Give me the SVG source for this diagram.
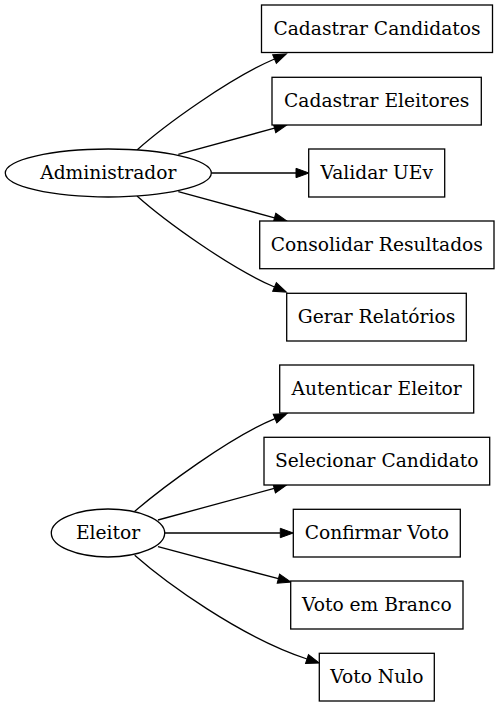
<svg xmlns="http://www.w3.org/2000/svg" width="500" height="707" viewBox="0 0 500 707">
<style>
.n rect, .n ellipse { fill: #fff; stroke: #000; stroke-width: 1.3; }
.n text { font-family: "DejaVu Serif", "Liberation Serif", serif; font-size: 18.67px; text-anchor: middle; fill: #000; }
.e path { fill: none; stroke: #000; stroke-width: 1.3; marker-end: url(#arr); }
</style>
<defs>
<marker id="arr" markerUnits="userSpaceOnUse" viewBox="0 0 13 9.4" refX="0" refY="4.7" markerWidth="13" markerHeight="9.4" orient="auto" overflow="visible">
<path d="M0,0 L13,4.7 L0,9.4 z" fill="#000" stroke="#000" stroke-width="1"/>
</marker>
</defs>
<rect width="500" height="707" fill="#fff"/>
<g id="edges" class="e">
<path d="M137,150 C165,125 230,78 274.5,59"/>
<path d="M178.3,154.3 L274.5,128.2"/>
<path d="M211.3,173 L296,173"/>
<path d="M178.3,191.7 L274.5,217.8"/>
<path d="M137,196 C165,221 230,268 274.5,287"/>
<path d="M134.7,511.3 C162,488 230,437 275,418.6"/>
<path d="M158,520 L274.2,488.4"/>
<path d="M164.7,533 L280.3,533"/>
<path d="M158,546.7 L278.4,578.7"/>
<path d="M134.7,555.3 C165,582 240,637 307,659"/>
</g>
<g id="administrador" class="n"><ellipse cx="108.3" cy="173" rx="103" ry="24"/><text x="108.3" y="178.5">Administrador</text></g>
<g id="cadastrar-candidatos" class="n"><rect x="261.5" y="5" width="231" height="47.5"/><text x="377" y="34.5">Cadastrar Candidatos</text></g>
<g id="cadastrar-eleitores" class="n"><rect x="272" y="77.3" width="209.3" height="47.7"/><text x="376.7" y="106.5">Cadastrar Eleitores</text></g>
<g id="validar-uev" class="n"><rect x="308.7" y="149" width="136" height="48"/><text x="376.7" y="178.5">Validar UEv</text></g>
<g id="consolidar-resultados" class="n"><rect x="259.7" y="221" width="234.3" height="47.7"/><text x="376.8" y="250.5">Consolidar Resultados</text></g>
<g id="gerar-relatorios" class="n"><rect x="286.7" y="293.3" width="179.6" height="47.7"/><text x="376.5" y="322.5">Gerar Relatórios</text></g>
<g id="eleitor" class="n"><ellipse cx="108" cy="533" rx="56.7" ry="24"/><text x="108" y="538.5">Eleitor</text></g>
<g id="autenticar-eleitor" class="n"><rect x="279.7" y="365" width="194" height="48"/><text x="376.7" y="394.5">Autenticar Eleitor</text></g>
<g id="selecionar-candidato" class="n"><rect x="264" y="437.3" width="225.7" height="47.7"/><text x="376.8" y="466.5">Selecionar Candidato</text></g>
<g id="confirmar-voto" class="n"><rect x="293.3" y="509.3" width="167" height="47.7"/><text x="376.8" y="538.5">Confirmar Voto</text></g>
<g id="voto-em-branco" class="n"><rect x="290.7" y="581" width="172.3" height="48"/><text x="376.8" y="610.5">Voto em Branco</text></g>
<g id="voto-nulo" class="n"><rect x="319.3" y="653.3" width="115" height="47.7"/><text x="376.8" y="682.5">Voto Nulo</text></g>
</svg>
